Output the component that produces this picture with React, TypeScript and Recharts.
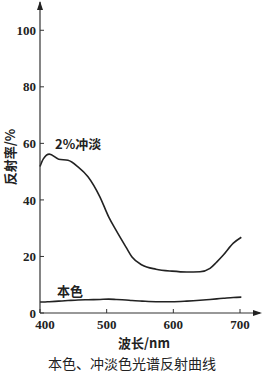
import { LineChart, Line, XAxis, YAxis } from "recharts";

const wavelengths = [400, 405, 414, 428, 442, 457, 472, 490, 503, 514, 529, 538, 553, 574, 598, 620, 640, 655, 665, 675, 690, 702];
const diluted = [51.8, 54.5, 56.2, 54.4, 54, 51.7, 48.2, 41, 34, 29.3, 23.3, 19.8, 17, 15.5, 14.8, 14.5, 14.6, 15.8, 18, 20.5, 24.7, 26.8];
const natural = [3.9, 3.9, 4.0, 4.2, 4.4, 4.6, 4.7, 4.8, 4.9, 4.8, 4.6, 4.4, 4.2, 4.0, 4.0, 4.2, 4.5, 4.8, 5.0, 5.2, 5.5, 5.6];
const xTicks = [400, 500, 600, 700];
const yTicks = [0, 20, 40, 60, 80, 100];

const data = wavelengths.map((wl, i) => ({ wl, diluted: diluted[i], natural: natural[i] }));

const tickFont = { fontFamily: "Liberation Serif", fontSize: 13, fontWeight: 700, fill: "#222" };
const cjk = "Noto Sans CJK SC";

// first x label sits a little right of its tick, like the original
const XTick = (props: any) => {
  const { x, y, payload } = props;
  const shift = payload.value === 400 ? 5 : 0;
  return (
    <text x={x + shift} y={y} dy={10} textAnchor="middle" {...tickFont}>
      {payload.value}
    </text>
  );
};

const App = () => {
  return (
    <div style={{ position: "absolute", left: 0, top: 0, width: 265, height: 375, background: "#fff" }}>
      <LineChart width={265} height={340} data={data} margin={{ top: 2, right: 5, bottom: 0, left: 0 }}>
        <XAxis
          dataKey="wl"
          type="number"
          domain={[400, 730]}
          ticks={xTicks}
          tickSize={-4}
          tickMargin={10}
          axisLine={{ stroke: "#333", strokeWidth: 1.2 }}
          tickLine={{ stroke: "#333" }}
          tick={<XTick />}
          height={27}
        />
        <YAxis
          type="number"
          domain={[0, 110]}
          ticks={yTicks}
          tickSize={-4}
          tickMargin={8}
          axisLine={{ stroke: "#333", strokeWidth: 1.2 }}
          tickLine={{ stroke: "#333" }}
          tick={tickFont}
          width={40}
        />
        <Line type="monotone" dataKey="diluted" stroke="#222" strokeWidth={1.6} dot={false} isAnimationActive={false} />
        <Line type="monotone" dataKey="natural" stroke="#222" strokeWidth={1.6} dot={false} isAnimationActive={false} />
      </LineChart>
      <svg width={265} height={375} style={{ position: "absolute", left: 0, top: 0, pointerEvents: "none" }}>
        <polygon points="40,1 37,10 43,10" fill="#222" />
        <polygon points="262,313 253,310 253,316" fill="#222" />
        <text x={55} y={149} fontFamily={cjk} fontSize={13} fontWeight={700} fill="#222">2%冲淡</text>
        <text x={57} y={296} fontFamily={cjk} fontSize={13} fontWeight={700} fill="#222">本色</text>
        <text x={144} y={348} textAnchor="middle" fontFamily={cjk} fontSize={13} fontWeight={700} fill="#222">波长/nm</text>
        <text x={132} y={369} textAnchor="middle" fontFamily={cjk} fontSize={14} fill="#222">本色、冲淡色光谱反射曲线</text>
        <text x={0} y={0} transform="translate(15,157) rotate(-90)" textAnchor="middle" fontFamily={cjk} fontSize={13} fontWeight={700} fill="#222">反射率/%</text>
      </svg>
    </div>
  );
};

export default App;
